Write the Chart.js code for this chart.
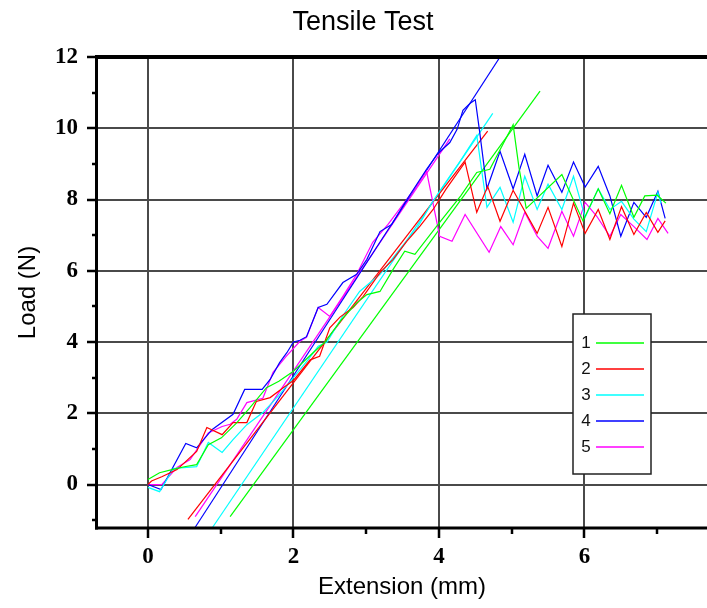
<!DOCTYPE html>
<html><head><meta charset="utf-8">
<script src="https://cdn.jsdelivr.net/npm/chart.js@4.4.1/dist/chart.umd.min.js"></script>
<style>html,body{margin:0;padding:0;background:#fff;}</style>
</head><body>
<canvas id="c" width="707" height="608"></canvas>
<script>
// ---- data ----
const seriesLabels = ['1', '2', '3', '4', '5'];
const seriesColors = ['#00ff00', '#ff0000', '#00ffff', '#0000ff', '#ff00ff'];

const ext1  = [0, 0.16, 0.33, 0.5, 0.67, 0.83, 1.01, 1.22, 1.4, 1.63, 1.8, 2.0, 2.27, 2.43, 2.65, 2.87, 3.01, 3.19, 3.37, 3.53, 3.67, 4.01, 4.3, 4.52, 4.7, 5.02, 5.1, 5.2, 5.69, 5.98, 6.19, 6.35, 6.51, 6.68, 6.83, 7.0, 7.12];
const load1 = [0.14, 0.33, 0.42, 0.5, 0.56, 1.12, 1.31, 1.73, 2.15, 2.72, 2.9, 3.18, 3.7, 3.99, 4.6, 5.1, 5.33, 5.42, 6.04, 6.55, 6.46, 7.36, 8.1, 8.76, 8.85, 10.1, 8.9, 7.75, 8.7, 7.4, 8.3, 7.6, 8.4, 7.5, 8.1, 8.12, 7.9];

const ext2  = [0, 0.05, 0.19, 0.4, 0.67, 0.81, 1.02, 1.17, 1.36, 1.49, 1.68, 1.85, 2.0, 2.23, 2.36, 2.5, 2.64, 2.82, 2.96, 3.19, 3.37, 3.56, 3.74, 3.92, 4.1, 4.36, 4.52, 4.67, 4.84, 5.02, 5.35, 5.5, 5.69, 5.85, 6.01, 6.19, 6.35, 6.51, 6.68, 6.85, 7.01, 7.11];
const load2 = [0, 0.1, 0.22, 0.42, 0.93, 1.6, 1.4, 1.74, 1.74, 2.33, 2.44, 2.7, 2.92, 3.5, 3.6, 4.4, 4.7, 4.97, 5.28, 5.95, 6.32, 6.83, 7.25, 7.72, 8.3, 9.05, 7.64, 8.37, 7.39, 8.26, 7.05, 7.78, 6.68, 7.9, 7.05, 7.72, 6.88, 7.8, 7.02, 7.64, 7.08, 7.4];

const ext3  = [0, 0.16, 0.35, 0.67, 0.83, 1.02, 1.17, 1.36, 1.58, 1.8, 2.0, 2.2, 2.34, 2.46, 2.7, 2.91, 3.19, 3.46, 3.7, 3.9, 4.1, 4.3, 4.52, 4.66, 4.84, 5.02, 5.18, 5.35, 5.5, 5.69, 5.85, 6.01, 6.19, 6.35, 6.51, 6.68, 6.85, 7.01, 7.05];
const load3 = [-0.08, -0.2, 0.45, 0.5, 1.18, 0.9, 1.26, 1.68, 2.02, 2.5, 3.0, 3.5, 3.88, 3.99, 4.8, 5.42, 5.9, 6.6, 7.2, 7.9, 8.5, 9.1, 9.8, 7.78, 8.34, 7.36, 8.65, 7.72, 8.43, 7.72, 8.65, 7.5, 8.3, 7.72, 7.95, 7.45, 7.1, 8.2, 7.9];

const ext4  = [0, 0.18, 0.52, 0.67, 0.88, 1.17, 1.33, 1.57, 1.68, 1.81, 1.91, 2.0, 2.09, 2.18, 2.34, 2.46, 2.68, 2.87, 3.01, 3.19, 3.35, 3.56, 3.83, 3.99, 4.15, 4.25, 4.33, 4.43, 4.5, 4.56, 4.66, 4.84, 5.02, 5.18, 5.35, 5.5, 5.69, 5.85, 6.01, 6.19, 6.35, 6.5, 6.68, 6.85, 7.01, 7.11];
const load4 = [0, -0.14, 1.15, 1.03, 1.54, 1.97, 2.67, 2.67, 2.95, 3.42, 3.7, 4.0, 4.05, 4.15, 4.97, 5.06, 5.67, 5.9, 6.32, 7.1, 7.3, 8.0, 8.85, 9.3, 9.6, 9.97, 10.5, 10.7, 10.8, 9.9, 8.3, 9.35, 8.3, 9.27, 8.1, 8.96, 8.2, 9.05, 8.35, 8.93, 8.1, 6.97, 7.92, 7.5, 8.23, 7.47];

const ext5  = [0, 0.19, 0.4, 0.58, 0.83, 1.02, 1.13, 1.22, 1.36, 1.58, 1.72, 1.9, 2.09, 2.18, 2.34, 2.5, 2.68, 2.87, 3.09, 3.3, 3.51, 3.7, 3.83, 4.01, 4.18, 4.36, 4.69, 4.85, 5.02, 5.18, 5.35, 5.5, 5.69, 5.85, 6.01, 6.17, 6.35, 6.5, 6.68, 6.86, 7.01, 7.15];
const load5 = [0, 0.0, 0.48, 0.7, 1.45, 1.63, 1.69, 1.83, 2.3, 2.42, 3.15, 3.6, 4.02, 4.13, 4.97, 4.72, 5.28, 5.9, 6.8, 7.3, 7.87, 8.4, 8.8, 6.97, 6.83, 7.58, 6.52, 7.24, 6.73, 7.64, 6.97, 6.63, 7.67, 6.97, 7.92, 7.53, 6.97, 7.58, 7.24, 6.88, 7.47, 7.05];

// straight offset lines of each test
const fitExt1 = [1.13, 5.39];  const fitLoad1 = [-0.9, 11.04];
const fitExt2 = [0.55, 4.67];  const fitLoad2 = [-0.98, 9.92];
const fitExt3 = [0.89, 4.74];  const fitLoad3 = [-1.2, 10.42];
const fitExt4 = [0.65, 4.84];  const fitLoad4 = [-1.2, 12.0];
const fitExt5 = [0.65, 4.15];  const fitLoad5 = [-0.9, 9.7];

const xMajorTicks = [0, 2, 4, 6];
const xMinorTicks = [1, 3, 5, 7];
const yMajorTicks = [0, 2, 4, 6, 8, 10, 12];
const yMinorTicks = [-1, 1, 3, 5, 7, 9, 11];

// ---- build ----
const curveExt = [ext1, ext2, ext3, ext4, ext5];
const curveLoad = [load1, load2, load3, load4, load5];
const fitExt = [fitExt1, fitExt2, fitExt3, fitExt4, fitExt5];
const fitLoad = [fitLoad1, fitLoad2, fitLoad3, fitLoad4, fitLoad5];
const pts = (xs, ys) => xs.map((x, i) => ({ x: x, y: ys[i] }));

const datasets = [];
seriesLabels.forEach((lab, i) => {
  datasets.push({ label: lab, data: pts(curveExt[i], curveLoad[i]), borderColor: seriesColors[i],
    backgroundColor: seriesColors[i], borderWidth: 1.2, pointRadius: 0, showLine: true, tension: 0 });
});
seriesLabels.forEach((lab, i) => {
  datasets.push({ label: lab + ' fit', data: pts(fitExt[i], fitLoad[i]), borderColor: seriesColors[i],
    backgroundColor: seriesColors[i], borderWidth: 1.2, pointRadius: 0, showLine: true, tension: 0 });
});

const GRID = '#4a4a4a';

const framePlugin = {
  id: 'originFrame',
  afterLayout(chart) {
    if (chart.titleBlock) { chart.titleBlock.left = 0; chart.titleBlock.right = 726; }
  },
  beforeDatasetsDraw(chart) {
    const { ctx, chartArea: a, scales: { x, y } } = chart;
    ctx.save();
    ctx.strokeStyle = GRID; ctx.lineWidth = 2;
    xMajorTicks.forEach(v => {
      const p = Math.round(x.getPixelForValue(v));
      ctx.beginPath(); ctx.moveTo(p, a.top); ctx.lineTo(p, a.bottom); ctx.stroke();
    });
    yMajorTicks.forEach(v => {
      if (v >= 12) return;
      const p = Math.round(y.getPixelForValue(v));
      ctx.beginPath(); ctx.moveTo(a.left, p); ctx.lineTo(a.right, p); ctx.stroke();
    });
    ctx.restore();
  },
  afterDatasetsDraw(chart) {
    const { ctx, chartArea: a, scales: { x, y } } = chart;
    ctx.save();
    ctx.strokeStyle = '#000';
    // frame
    ctx.lineWidth = 4;
    ctx.beginPath(); ctx.moveTo(a.left - 2, a.top); ctx.lineTo(a.right, a.top); ctx.stroke();
    ctx.lineWidth = 3;
    ctx.beginPath(); ctx.moveTo(a.left - 0.5, a.top); ctx.lineTo(a.left - 0.5, a.bottom + 1.5); ctx.stroke();
    ctx.beginPath(); ctx.moveTo(a.left - 2, a.bottom); ctx.lineTo(a.right, a.bottom); ctx.stroke();
    // ticks
    ctx.lineWidth = 2.5;
    xMajorTicks.forEach(v => { const p = Math.round(x.getPixelForValue(v)); ctx.beginPath(); ctx.moveTo(p, a.bottom); ctx.lineTo(p, a.bottom + 10); ctx.stroke(); });
    xMinorTicks.forEach(v => { const p = Math.round(x.getPixelForValue(v)); ctx.beginPath(); ctx.moveTo(p, a.bottom); ctx.lineTo(p, a.bottom + 6); ctx.stroke(); });
    yMajorTicks.forEach(v => { const p = Math.round(y.getPixelForValue(v)); ctx.beginPath(); ctx.moveTo(a.left, p); ctx.lineTo(a.left - 10, p); ctx.stroke(); });
    yMinorTicks.forEach(v => { const p = Math.round(y.getPixelForValue(v)); ctx.beginPath(); ctx.moveTo(a.left, p); ctx.lineTo(a.left - 5, p); ctx.stroke(); });
    // legend box
    const bx = 573, by = 314, bw = 78, bh = 160;
    ctx.fillStyle = '#fff'; ctx.fillRect(bx, by, bw, bh);
    ctx.strokeStyle = '#222'; ctx.lineWidth = 1.5; ctx.strokeRect(bx, by, bw, bh);
    ctx.font = '17px "Liberation Sans", Arial, sans-serif';
    ctx.textAlign = 'center'; ctx.textBaseline = 'middle'; ctx.fillStyle = '#111';
    seriesLabels.forEach((lab, i) => {
      const yy = by + 29 + i * 26;
      ctx.fillText(lab, bx + 13, yy);
      ctx.strokeStyle = seriesColors[i]; ctx.lineWidth = 1.5;
      ctx.beginPath(); ctx.moveTo(bx + 23, yy); ctx.lineTo(bx + 71, yy); ctx.stroke();
    });
    ctx.restore();
  }
};

new Chart(document.getElementById('c'), {
  type: 'scatter',
  data: { datasets: datasets },
  plugins: [framePlugin],
  options: {
    responsive: false, animation: false, devicePixelRatio: 1,
    layout: { padding: 0 },
    plugins: {
      legend: { display: false },
      tooltip: { enabled: false },
      title: { display: true, text: 'Tensile Test', color: '#000',
        font: { family: '"Liberation Sans", Arial, sans-serif', size: 27, weight: 'normal', lineHeight: 1.2 },
        padding: { top: 6, bottom: 18.6 } }
    },
    scales: {
      x: {
        type: 'linear', min: -0.7, max: 7.685,
        afterBuildTicks: s => { s.ticks = xMajorTicks.map(v => ({ value: v })); },
        afterFit: s => { s.height = 80; },
        grid: { display: false }, border: { display: false },
        ticks: { color: '#000', padding: 7, maxRotation: 0, autoSkip: false,
          font: { family: '"Liberation Serif", "Times New Roman", serif', size: 23, weight: 'bold' } },
        title: { display: true, text: 'Extension (mm)', color: '#000',
          font: { family: '"Liberation Sans", Arial, sans-serif', size: 24 }, padding: { top: 0, bottom: 6 } }
      },
      y: {
        type: 'linear', min: -1.22, max: 12,
        afterBuildTicks: s => { s.ticks = yMajorTicks.map(v => ({ value: v })); },
        afterFit: s => { s.width = 97; },
        grid: { display: false }, border: { display: false },
        ticks: { color: '#000', padding: 11, autoSkip: false,
          font: { family: '"Liberation Serif", "Times New Roman", serif', size: 23, weight: 'bold' } },
        title: { display: true, text: 'Load (N)', color: '#000',
          font: { family: '"Liberation Sans", Arial, sans-serif', size: 24 }, padding: { top: 14, bottom: 0 } }
      }
    }
  }
});
</script>
</body></html>
